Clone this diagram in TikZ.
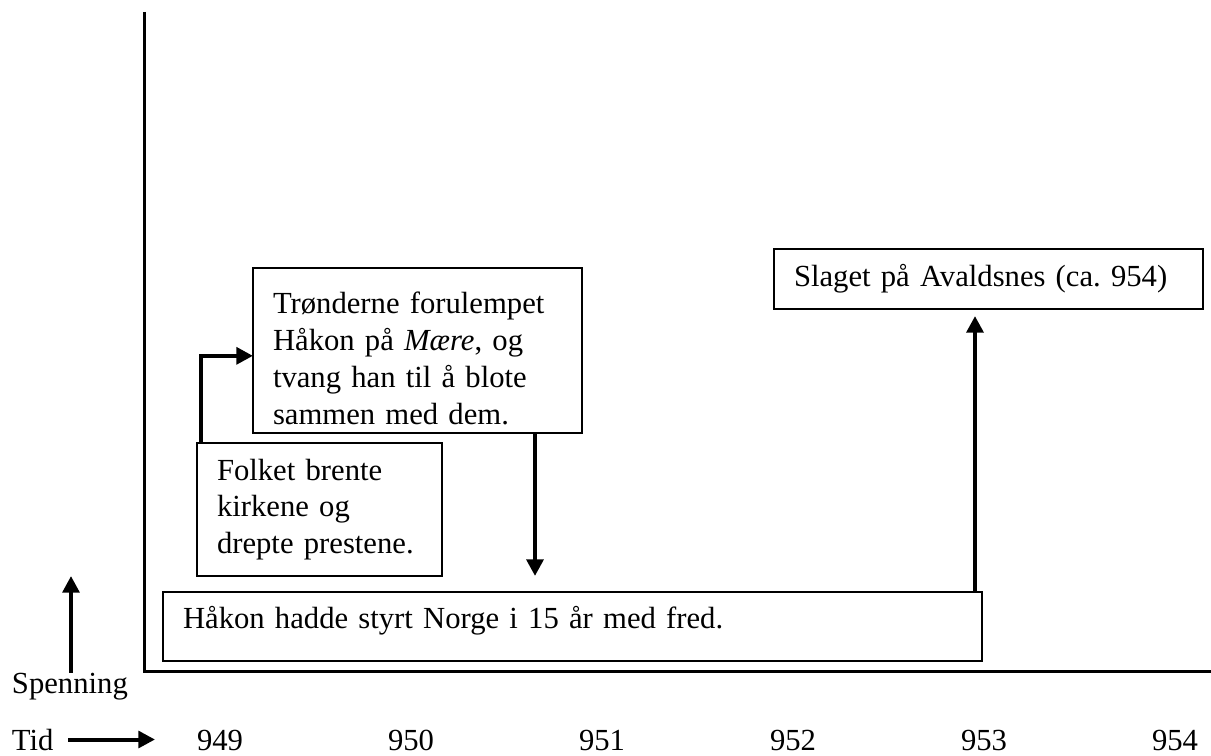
\documentclass[tikz,border=0pt]{standalone}
\usepackage{fontspec}
\setmainfont{Liberation Serif}
\usetikzlibrary{arrows.meta, positioning}

\begin{document}
\begin{tikzpicture}[x=0.75pt, y=-0.75pt, outer sep=0pt, font=\fontsize{23}{27.6}\selectfont]

\tikzstyle{box}=[rectangle,draw,line width=1.1pt,anchor=north west,align=left,inner xsep=15pt,inner ysep=0pt]
\tikzstyle{arr}=[line width=3.4pt,-{Triangle[length=12.5pt,width=12.5pt]}]
\tikzstyle{axis}=[line width=2.25pt]
\tikzstyle{lbl}=[inner sep=0pt,anchor=base west]

\useasboundingbox (0,0) rectangle (1211,756);

\coordinate (origo) at (144,671);
\draw[axis] (144,12) -- (origo) -- (1211,671);

\node[box,text width=216.75pt,minimum height=123.75pt,text height=28pt] (tronder) at (253,268) {Trønderne forulempet\\Håkon på \textit{Mære}, og\\tvang han til å blote\\sammen med dem.};
\node[box,text width=153.75pt,minimum height=99.75pt] (folket) at (197,443) {Folket brente\\kirkene og\\drepte prestene.};
\node[box,text width=584.25pt,minimum height=51.75pt,text height=16pt,text depth=13.5pt] (fred) at (163,592) {Håkon hadde styrt Norge i 15 år med fred.};
\node[box,text width=291.75pt,minimum height=45pt] (slaget) at (774,249) {Slaget på Avaldsnes (ca.~954)};

\coordinate (fall) at (535,576);
\coordinate (stig) at (975,316);
\draw[arr] ([xshift=3pt]folket.north west) |- ([yshift=-4pt]tronder.west);
\draw[arr] (tronder.south -| fall) -- (fall);
\draw[arr] (fred.north -| stig) -- (stig);

\node[lbl] (spenning) at (12,693) {Spenning};
\coordinate (spenntopp) at (71,576);
\draw[arr,line width=3pt] (spenning.north -| spenntopp) -- (spenntopp);

\node[lbl] (tid) at (12,750) {Tid};
\coordinate (tidpil) at (155,738);
\draw[arr,line width=3pt] ([xshift=11pt]tid.east) -- (tidpil |- tid.east);

\foreach \aar [count=\i from 0] in {949,...,954}
  \node[anchor=base,inner sep=0pt] (aar\aar) at (220+191*\i,750) {\aar};
\end{tikzpicture}
\end{document}
